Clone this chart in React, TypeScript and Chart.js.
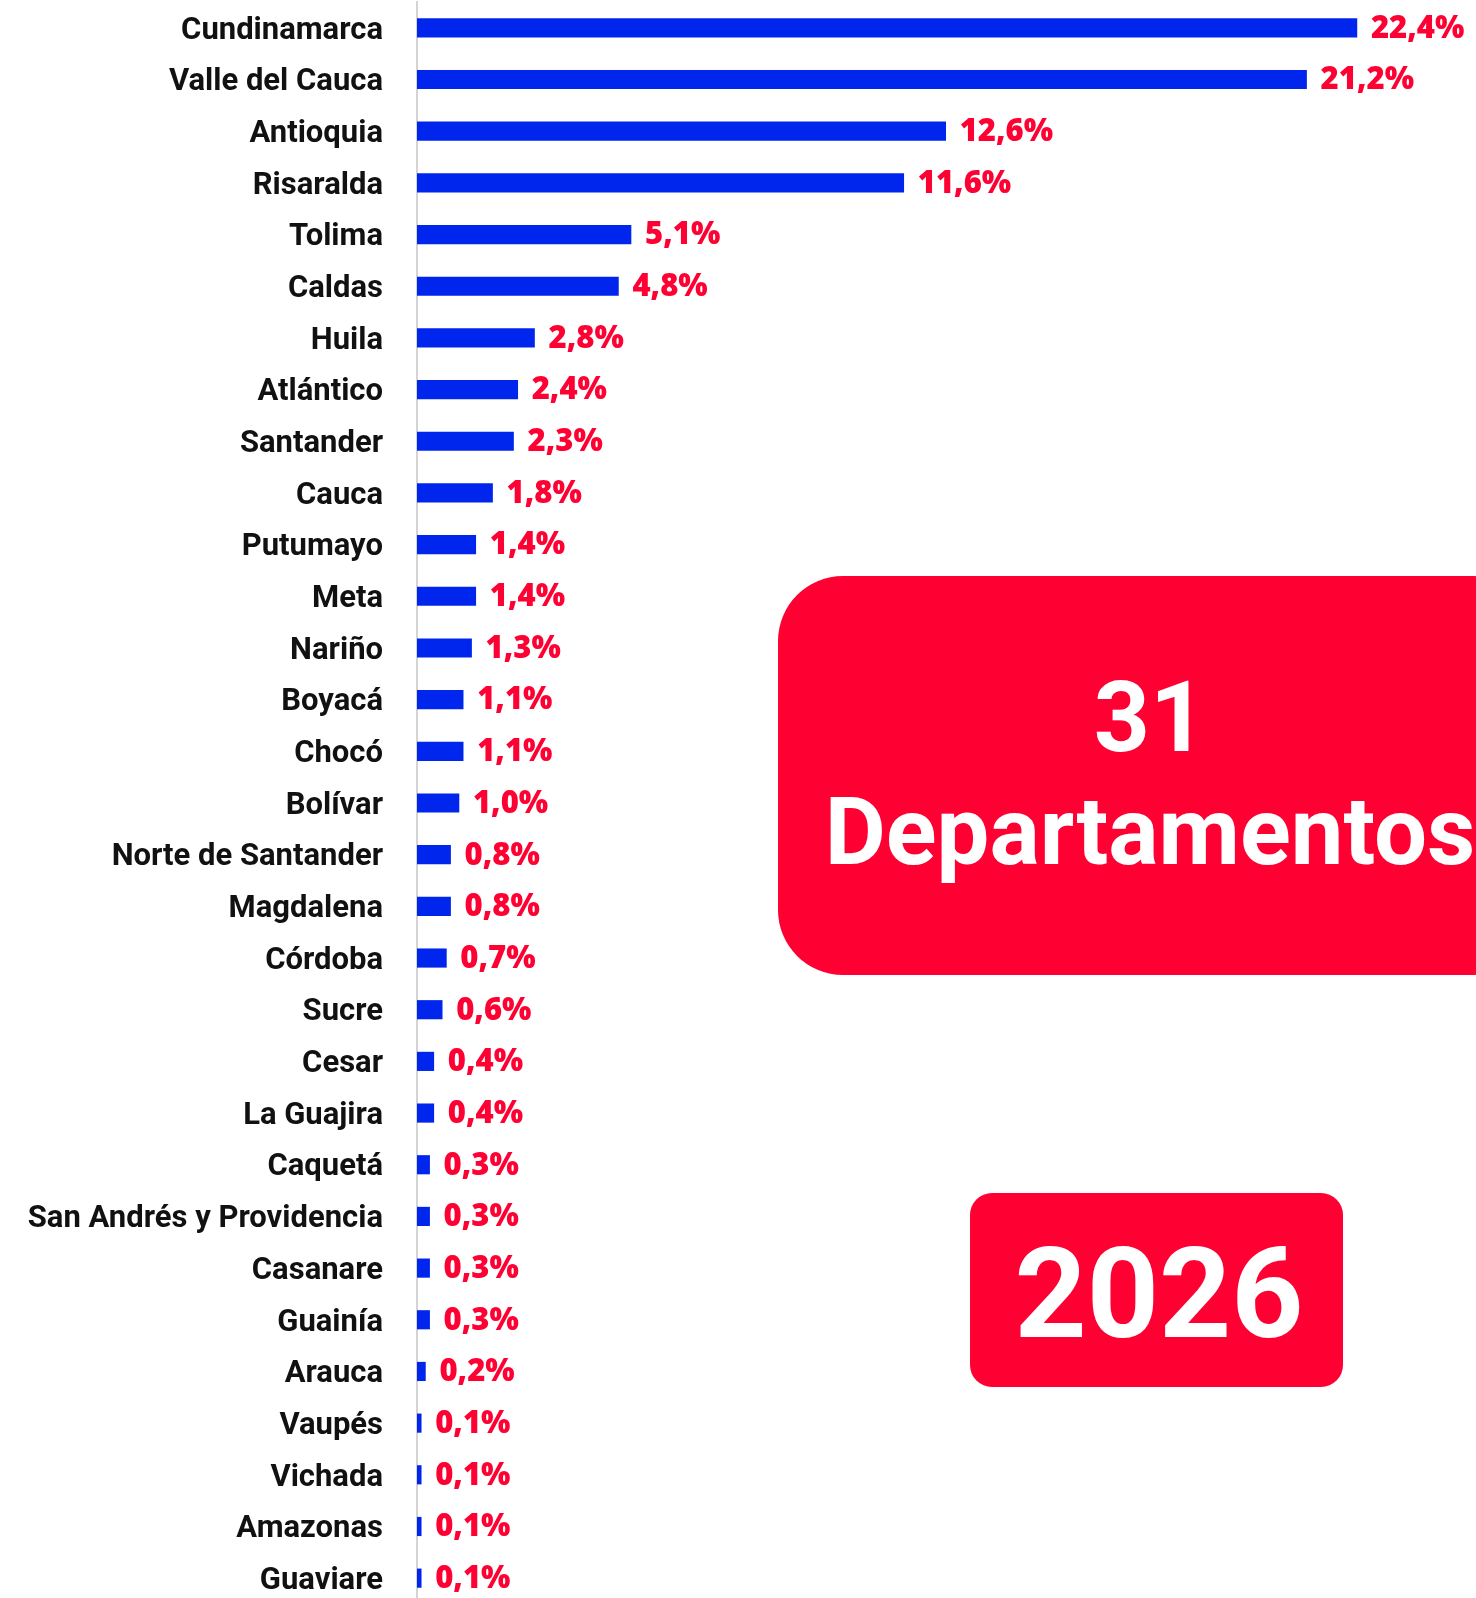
import React, { useEffect, useRef } from 'react';
import { Chart, registerables } from 'chart.js';

Chart.register(...registerables);

const categories = [
  'Cundinamarca', 'Valle del Cauca', 'Antioquia', 'Risaralda', 'Tolima', 'Caldas', 'Huila',
  'Atlántico', 'Santander', 'Cauca', 'Putumayo', 'Meta', 'Nariño', 'Boyacá', 'Chocó', 'Bolívar',
  'Norte de Santander', 'Magdalena', 'Córdoba', 'Sucre', 'Cesar', 'La Guajira', 'Caquetá',
  'San Andrés y Providencia', 'Casanare', 'Guainía', 'Arauca', 'Vaupés', 'Vichada', 'Amazonas', 'Guaviare',
];
const values = [
  22.4, 21.2, 12.6, 11.6, 5.1, 4.8, 2.8, 2.4, 2.3, 1.8, 1.4, 1.4, 1.3, 1.1, 1.1, 1.0,
  0.8, 0.8, 0.7, 0.6, 0.4, 0.4, 0.3, 0.3, 0.3, 0.3, 0.2, 0.1, 0.1, 0.1, 0.1,
];
const badgeCount = '31';
const badgeLabel = 'Departamentos';
const yearLabel = '2026';

const RED = '#FF0033';
const BLUE = '#0026EE';

const fmt = (v: number) => v.toFixed(1).replace('.', ',') + '%';

const valueLabels = {
  id: 'valueLabels',
  afterDatasetsDraw(chart: any) {
    const { ctx } = chart;
    const meta = chart.getDatasetMeta(0);
    ctx.save();
    ctx.font = '800 31px "Open Sans"';
    ctx.fillStyle = RED;
    ctx.textBaseline = 'middle';
    ctx.textAlign = 'left';
    meta.data.forEach((bar: any, i: number) => {
      ctx.fillText(fmt(values[i]), bar.x + 14, bar.y + 1);
    });
    ctx.restore();
  },
};

export default function App() {
  const ref = useRef<HTMLCanvasElement>(null);

  useEffect(() => {
    if (!ref.current) return;
    const chart = new Chart(ref.current, {
      type: 'bar',
      data: {
        labels: categories,
        datasets: [
          {
            data: values,
            backgroundColor: BLUE,
            borderWidth: 0,
            barThickness: 18.5,
          },
        ],
      },
      options: {
        indexAxis: 'y',
        animation: false,
        responsive: false,
        maintainAspectRatio: false,
        layout: { padding: { top: 2, bottom: 2, left: 0, right: 10 } },
        plugins: { legend: { display: false }, tooltip: { enabled: false } },
        scales: {
          x: { display: false, min: 0, max: 25 },
          y: {
            position: 'left',
            grid: {
              display: true,
              drawOnChartArea: false,
              drawTicks: true,
              tickLength: 34,
              color: 'rgba(0,0,0,0)',
            },
            border: { display: true, color: '#d4d4d4', width: 2 },
            ticks: {
              autoSkip: false,
              padding: 0,
              labelOffset: 3,
              color: '#111111',
              font: { family: 'Roboto', weight: 'bold', size: 31, lineHeight: 0.1 },
            },
            afterFit(scale: any) {
              scale.width = 417;
            },
          },
        },
      },
      plugins: [valueLabels],
    });
    return () => chart.destroy();
  }, []);

  const textBase: React.CSSProperties = {
    position: 'absolute',
    color: '#ffffff',
    fontFamily: 'Roboto',
    fontWeight: 700,
    lineHeight: 1,
    textAlign: 'center',
    whiteSpace: 'nowrap',
  };

  return (
    <div
      style={{
        position: 'fixed',
        left: 0,
        top: 0,
        width: 1476,
        height: 1598,
        overflow: 'hidden',
        background: '#ffffff',
      }}
    >
      <canvas ref={ref} width={1476} height={1606} style={{ display: 'block' }} />
      <div
        style={{
          position: 'absolute',
          left: 778,
          top: 576,
          width: 760,
          height: 399,
          borderRadius: 65,
          background: RED,
        }}
      />
      <div style={{ ...textBase, left: 850, width: 600, top: 669, fontSize: 98 }}>{badgeCount}</div>
      <div style={{ ...textBase, left: 750, width: 800, top: 785, fontSize: 94 }}>{badgeLabel}</div>
      <div
        style={{
          position: 'absolute',
          left: 970,
          top: 1193,
          width: 373,
          height: 194,
          borderRadius: 22,
          background: RED,
        }}
      />
      <div style={{ ...textBase, left: 959, width: 400, top: 1231, fontSize: 126 }}>{yearLabel}</div>
    </div>
  );
}
